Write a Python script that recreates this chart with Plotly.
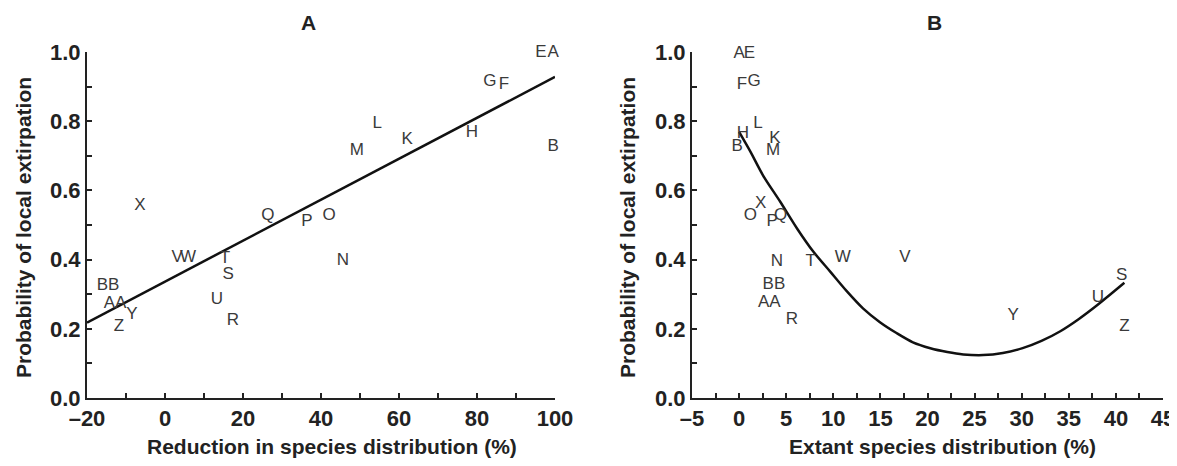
import plotly.graph_objects as go

# The page body has an 8px margin; size the figure so it fits the window without scrollbars
OFF = 8
W, H = 1177 - OFF, 466 - 2 * OFF

# ---------- Panel A data ----------
a_labels = ["E", "A", "G", "F", "L", "K", "H", "M", "B", "X", "Q", "P", "O",
            "V", "W", "T", "S", "N", "BB", "AA", "Y", "Z", "U", "R"]
a_x = [96.4, 99.5, 83.3, 86.9, 54.4, 62.1, 78.7, 49.2, 99.5, -6.4, 26.4, 36.4, 42.1,
       3.1, 5.9, 15.4, 16.2, 45.6, -14.6, -12.8, -8.5, -11.8, 13.3, 17.4]
a_y = [0.997, 0.997, 0.913, 0.905, 0.792, 0.746, 0.766, 0.714, 0.725, 0.555, 0.526, 0.509, 0.526,
       0.405, 0.405, 0.402, 0.355, 0.396, 0.324, 0.272, 0.240, 0.205, 0.283, 0.223]
a_fit_x = [-20, 100]
a_fit_y = [0.218, 0.928]
a_xticks = [-20, 0, 20, 40, 60, 80, 100]
a_xticktext = ["\u201320", "0", "20", "40", "60", "80", "100"]

# ---------- Panel B data ----------
b_labels = ["A", "E", "F", "G", "H", "L", "B", "K", "M", "X", "O", "P", "Q",
            "N", "T", "W", "V", "BB", "AA", "R", "S", "U", "Y", "Z"]
b_x = [0.0, 1.1, 0.3, 1.6, 0.4, 2.0, -0.2, 3.8, 3.6, 2.3, 1.2, 3.5, 4.4,
       4.0, 7.6, 11.0, 17.6, 3.7, 3.2, 5.6, 40.6, 38.1, 29.1, 40.9]
b_y = [0.994, 0.994, 0.905, 0.914, 0.764, 0.793, 0.726, 0.749, 0.715, 0.562, 0.527, 0.510, 0.527,
       0.395, 0.395, 0.406, 0.406, 0.326, 0.274, 0.225, 0.354, 0.291, 0.239, 0.207]
b_curve_x = [0.0, 1.2, 2.55, 4.35, 6.15, 7.85, 9.65, 11.45, 13.15, 14.95, 16.75, 18.45,
             20.3, 22.1, 23.8, 25.9, 28.0, 30.1, 32.1, 34.1, 36.0, 38.0, 40.9]
b_curve_y = [0.769, 0.712, 0.643, 0.568, 0.490, 0.424, 0.366, 0.308, 0.259, 0.219, 0.187, 0.161,
             0.144, 0.133, 0.126, 0.124, 0.130, 0.144, 0.165, 0.193, 0.227, 0.268, 0.333]
b_xticks = [-5, 0, 5, 10, 15, 20, 25, 30, 35, 40, 45]
b_xticktext = ["\u20135"] + [str(v) for v in b_xticks[1:]]

y_ticks = [0.0, 0.2, 0.4, 0.6, 0.8, 1.0]
y_ticktext = ["0.0", "0.2", "0.4", "0.6", "0.8", "1.0"]

FONT = "Liberation Sans, Arial, sans-serif"
INK = "#222222"
LABEL_COL = "#3a3a3a"

fig = go.Figure()
fig.add_trace(go.Scatter(x=a_fit_x, y=a_fit_y, mode="lines",
                         line=dict(color="#111111", width=2.5),
                         xaxis="x", yaxis="y", showlegend=False, hoverinfo="skip"))
fig.add_trace(go.Scatter(x=a_x, y=a_y, mode="text", text=a_labels,
                         textposition="middle center",
                         textfont=dict(family=FONT, size=17, color=LABEL_COL),
                         xaxis="x", yaxis="y", showlegend=False, cliponaxis=False))
fig.add_trace(go.Scatter(x=b_curve_x, y=b_curve_y, mode="lines",
                         line=dict(color="#111111", width=2.5, shape="spline", smoothing=0.8),
                         xaxis="x2", yaxis="y2", showlegend=False, hoverinfo="skip"))
fig.add_trace(go.Scatter(x=b_x, y=b_y, mode="text", text=b_labels,
                         textposition="middle center",
                         textfont=dict(family=FONT, size=17, color=LABEL_COL),
                         xaxis="x2", yaxis="y2", showlegend=False, cliponaxis=False))


def px_x(p):
    return (p - OFF) / W


def px_y(p):
    return 1 - (p - OFF) / H


tickfont = dict(family=FONT, size=22, color=INK, weight="bold")
common = dict(showgrid=False, zeroline=False, showline=True, linecolor=INK, linewidth=2,
              ticks="inside", ticklen=5, tickwidth=1.5, tickcolor=INK,
              tickfont=tickfont, automargin=False, fixedrange=True,
              ticklabeloverflow="allow")

ydom = [px_y(398), px_y(52)]

fig.update_layout(
    width=W, height=H,
    margin=dict(l=0, r=0, t=0, b=0),
    paper_bgcolor="white", plot_bgcolor="white",
    xaxis=dict(domain=[px_x(87), px_x(555)], range=[-20, 100], anchor="y",
               tickmode="array", tickvals=a_xticks, ticktext=a_xticktext,
               minor=dict(tickmode="linear", tick0=-20, dtick=10, ticks="inside",
                          ticklen=5, tickwidth=1.5, tickcolor=INK),
               **common),
    yaxis=dict(domain=ydom, range=[0, 1], anchor="x",
               tickmode="array", tickvals=y_ticks, ticktext=y_ticktext,
               minor=dict(tickmode="linear", tick0=0, dtick=0.1, ticks="inside",
                          ticklen=5, tickwidth=1.5, tickcolor=INK),
               **common),
    xaxis2=dict(domain=[px_x(692), px_x(1163)], range=[-5, 45], anchor="y2",
                tickmode="array", tickvals=b_xticks, ticktext=b_xticktext,
                minor=dict(tickmode="linear", tick0=-5, dtick=2.5, ticks="inside",
                           ticklen=5, tickwidth=1.5, tickcolor=INK),
                **common),
    yaxis2=dict(domain=ydom, range=[0, 1], anchor="x2",
                tickmode="array", tickvals=y_ticks, ticktext=y_ticktext,
                minor=dict(tickmode="linear", tick0=0, dtick=0.1, ticks="inside",
                           ticklen=5, tickwidth=1.5, tickcolor=INK),
                **common),
)

title_font = dict(family=FONT, size=21, color=INK, weight="bold")
anns = [
    dict(text="A", x=px_x(308), y=px_y(23)),
    dict(text="B", x=px_x(934), y=px_y(23)),
    dict(text="Reduction in species distribution (%)", x=px_x(332), y=px_y(446)),
    dict(text="Extant species distribution (%)", x=px_x(942), y=px_y(446)),
    dict(text="Probability of local extirpation", x=px_x(23), y=px_y(228), textangle=-90),
    dict(text="Probability of local extirpation", x=px_x(627), y=px_y(228), textangle=-90),
]
for a in anns:
    fig.add_annotation(xref="paper", yref="paper", showarrow=False,
                       xanchor="center", yanchor="middle",
                       font=title_font, **a)

fig.write_html("out.html")
